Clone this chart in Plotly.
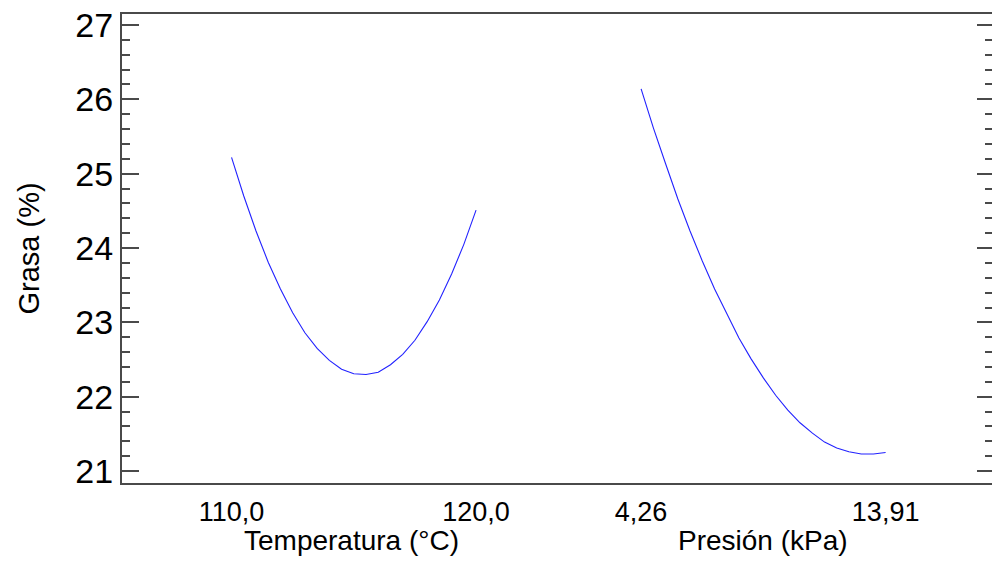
import plotly.graph_objects as go

# ---- data ----
temp_vals = [110.0, 110.5, 111.0, 111.5, 112.0, 112.5, 113.0, 113.5, 114.0, 114.5, 115.0,
             115.5, 116.0, 116.5, 117.0, 117.5, 118.0, 118.5, 119.0, 119.5, 120.0]
grasa_temp = [25.22, 24.70, 24.23, 23.81, 23.45, 23.13, 22.86, 22.65, 22.49, 22.37, 22.31,
              22.30, 22.33, 22.43, 22.57, 22.76, 23.01, 23.30, 23.65, 24.05, 24.51]

pres_vals = [4.26, 4.74, 5.23, 5.71, 6.19, 6.67, 7.16, 7.64, 8.12, 8.60, 9.09,
             9.57, 10.05, 10.53, 11.02, 11.50, 11.98, 12.46, 12.95, 13.43, 13.91]
grasa_pres = [26.14, 25.62, 25.13, 24.66, 24.23, 23.83, 23.45, 23.11, 22.79, 22.51, 22.25,
              22.02, 21.82, 21.65, 21.51, 21.39, 21.31, 21.26, 21.23, 21.23, 21.25]

temp_ticks = [110.0, 120.0]
temp_ticklabels = ["110,0", "120,0"]
pres_ticks = [4.26, 13.91]
pres_ticklabels = ["4,26", "13,91"]

y_ticks = [21, 22, 23, 24, 25, 26, 27]

# ---- map each factor onto its own panel of a shared x axis ----
PRES_OFFSET = 1.675


def t_pos(t):
    return (t - temp_ticks[0]) / (temp_ticks[1] - temp_ticks[0])


def p_pos(p):
    return PRES_OFFSET + (p - pres_ticks[0]) / (pres_ticks[1] - pres_ticks[0])


FONT = "Arial"
LINE_COLOR = "#4a4a4a"

fig = go.Figure()
fig.add_trace(go.Scatter(x=[t_pos(t) for t in temp_vals], y=grasa_temp, mode="lines",
                         line=dict(color="#2222ff", width=1.1), showlegend=False,
                         hoverinfo="skip"))
fig.add_trace(go.Scatter(x=[p_pos(p) for p in pres_vals], y=grasa_pres, mode="lines",
                         line=dict(color="#2222ff", width=1.1), showlegend=False,
                         hoverinfo="skip"))
# invisible trace to activate right-side tick axis
fig.add_trace(go.Scatter(x=[t_pos(temp_vals[0])], y=[grasa_temp[0]], yaxis="y2",
                         mode="markers", marker=dict(opacity=0), showlegend=False,
                         hoverinfo="skip"))

yr = [20.84, 27.148]
xr = [-0.448, 3.110]

fig.update_layout(
    width=992, height=564,
    margin=dict(l=122, r=0, t=14, b=81),
    paper_bgcolor="white", plot_bgcolor="white",
    font=dict(family=FONT, color="black"),
    xaxis=dict(
        range=xr, showgrid=False, zeroline=False,
        showline=True, linecolor=LINE_COLOR, linewidth=2, mirror=True,
        ticks="",
        tickvals=[t_pos(v) for v in temp_ticks] + [p_pos(v) for v in pres_ticks],
        ticktext=temp_ticklabels + pres_ticklabels,
        tickfont=dict(size=27, family=FONT, color="black"),
        ticklabelstandoff=4,
    ),
    yaxis=dict(
        range=yr, showgrid=False, zeroline=False,
        showline=True, linecolor=LINE_COLOR, linewidth=2,
        ticks="inside", ticklen=17, tickwidth=2, tickcolor=LINE_COLOR,
        tickvals=y_ticks, ticktext=[str(v) for v in y_ticks],
        tickfont=dict(size=34, family=FONT, color="black"),
        minor=dict(dtick=0.2, ticks="inside", ticklen=8, tickwidth=2, tickcolor=LINE_COLOR),
    ),
    yaxis2=dict(
        range=yr, overlaying="y", side="right", anchor="x",
        showgrid=False, zeroline=False, showline=False,
        ticks="inside", ticklen=15, tickwidth=2, tickcolor=LINE_COLOR,
        tickvals=y_ticks, showticklabels=False,
        minor=dict(dtick=0.2, ticks="inside", ticklen=7, tickwidth=2, tickcolor=LINE_COLOR),
    ),
)

fig.add_annotation(text="Grasa (%)", x=-0.108, y=0.5, xref="paper", yref="paper",
                   xanchor="center", yanchor="middle", textangle=-90, showarrow=False,
                   font=dict(size=29, family=FONT, color="black"))
fig.add_annotation(text="Temperatura (°C)", x=t_pos(114.9), y=-0.123, xref="x", yref="paper",
                   yanchor="middle", showarrow=False,
                   font=dict(size=28, family=FONT, color="black"))
fig.add_annotation(text="Presión (kPa)", x=p_pos((pres_ticks[0] + pres_ticks[1]) / 2),
                   y=-0.123, xref="x", yref="paper", yanchor="middle", showarrow=False,
                   font=dict(size=28, family=FONT, color="black"))

fig.write_html("out.html")
